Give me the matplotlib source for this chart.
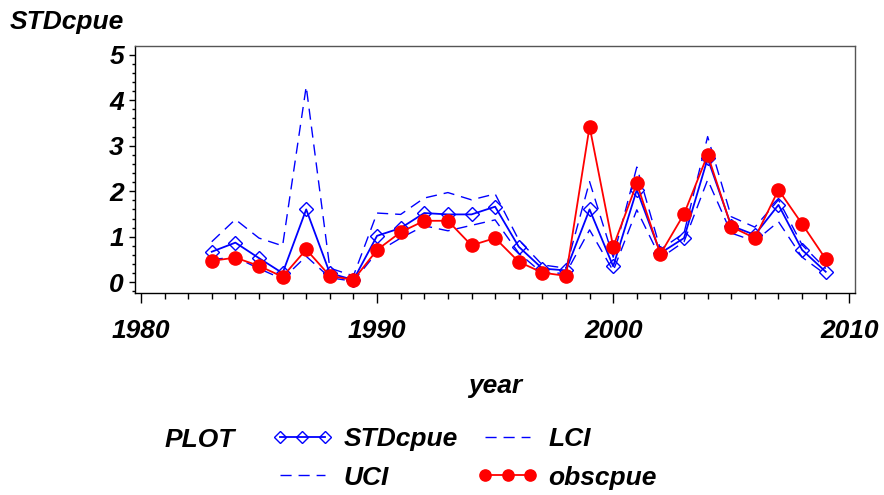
import numpy as np
import matplotlib.pyplot as plt
from matplotlib.ticker import MultipleLocator

plt.rcParams['font.family'] = ['Liberation Sans', 'DejaVu Sans']
plt.rcParams['font.style'] = 'italic'
plt.rcParams['font.weight'] = 'bold'
plt.rcParams['axes.labelweight'] = 'bold'

# data
years = list(range(1983, 2010))
std = [0.67, 0.87, 0.53, 0.20, 1.60, 0.20, 0.05, 1.02, 1.19, 1.52, 1.49, 1.49, 1.66, 0.78,
       0.30, 0.26, 1.60, 0.35, 2.03, 0.64, 0.97, 2.72, 1.24, 1.04, 1.70, 0.71, 0.23]
obs = [0.47, 0.54, 0.36, 0.12, 0.72, 0.14, 0.05, 0.71, 1.10, 1.35, 1.35, 0.81, 0.97, 0.45,
       0.21, 0.14, 3.42, 0.78, 2.17, 0.62, 1.50, 2.80, 1.22, 0.97, 2.03, 1.28, 0.51]
uci = [0.89, 1.38, 0.97, 0.80, 4.30, 0.31, 0.14, 1.52, 1.49, 1.85, 1.97, 1.81, 1.94, 0.93,
       0.38, 0.31, 2.21, 0.55, 2.53, 0.72, 1.08, 3.20, 1.44, 1.21, 1.81, 0.82, 0.30]
lci = [0.50, 0.55, 0.30, 0.07, 0.57, 0.10, 0.02, 0.66, 0.97, 1.24, 1.13, 1.25, 1.37, 0.64,
       0.20, 0.20, 1.15, 0.25, 1.59, 0.53, 0.89, 2.25, 1.08, 0.90, 1.33, 0.55, 0.17]

blue = '#0000ff'
red = '#ff0000'
fs = 19

fig = plt.figure(figsize=(8.84, 4.95), dpi=100)
W, H = 884, 495
ax = fig.add_axes([135/W, 1 - 292.7/H, 720/W, (292.7-46)/H])

ax.plot(years, uci, color=blue, lw=1.0, dashes=(8, 5), label='UCI')
ax.plot(years, lci, color=blue, lw=1.0, dashes=(8, 5), label='LCI')
ax.plot(years, std, color=blue, lw=1.3, marker='D', ms=7, mfc='none', mec=blue,
        mew=1.0, label='STDcpue')
ax.plot(years, obs, color=red, lw=1.3, marker='o', ms=9.5, mfc=red, mec=red,
        label='obscpue')

ax.set_xlim(1979.75, 2010.24)
ax.set_ylim(-0.23, 5.19)
ax.xaxis.set_major_locator(MultipleLocator(10))
ax.xaxis.set_minor_locator(MultipleLocator(1))
ax.yaxis.set_major_locator(MultipleLocator(1))
ax.yaxis.set_minor_locator(MultipleLocator(0.2))
ax.tick_params(axis='x', which='major', length=7, width=1, pad=12, labelsize=fs)
ax.tick_params(axis='x', which='minor', length=4, width=1)
ax.tick_params(axis='y', which='major', length=4, width=1, pad=4, labelsize=fs)
ax.tick_params(axis='y', which='minor', length=2.5, width=1)
for s in ['top', 'right']:
    ax.spines[s].set_color('#555555')
for s in ax.spines.values():
    s.set_linewidth(1)

ax.set_xlabel('year', fontsize=fs, labelpad=22)
fig.text(10/W, 1 - 22/H, 'STDcpue', fontsize=fs, va='center', ha='left')

# legend
h, l = ax.get_legend_handles_labels()
order = [2, 0, 1, 3]
fig.text(165/W, 1 - 440/H, 'PLOT', fontsize=fs, va='center', ha='left')
fig.legend([h[i] for i in order], [l[i] for i in order], ncol=2,
           loc='upper left', bbox_to_anchor=(272/W, 1 - 427/H), frameon=False,
           fontsize=fs, numpoints=3, markerscale=0.85, handlelength=2.3,
           handletextpad=0.4, columnspacing=0.75, labelspacing=0.55,
           borderpad=0, borderaxespad=0)

plt.savefig('out.png', dpi=100)
